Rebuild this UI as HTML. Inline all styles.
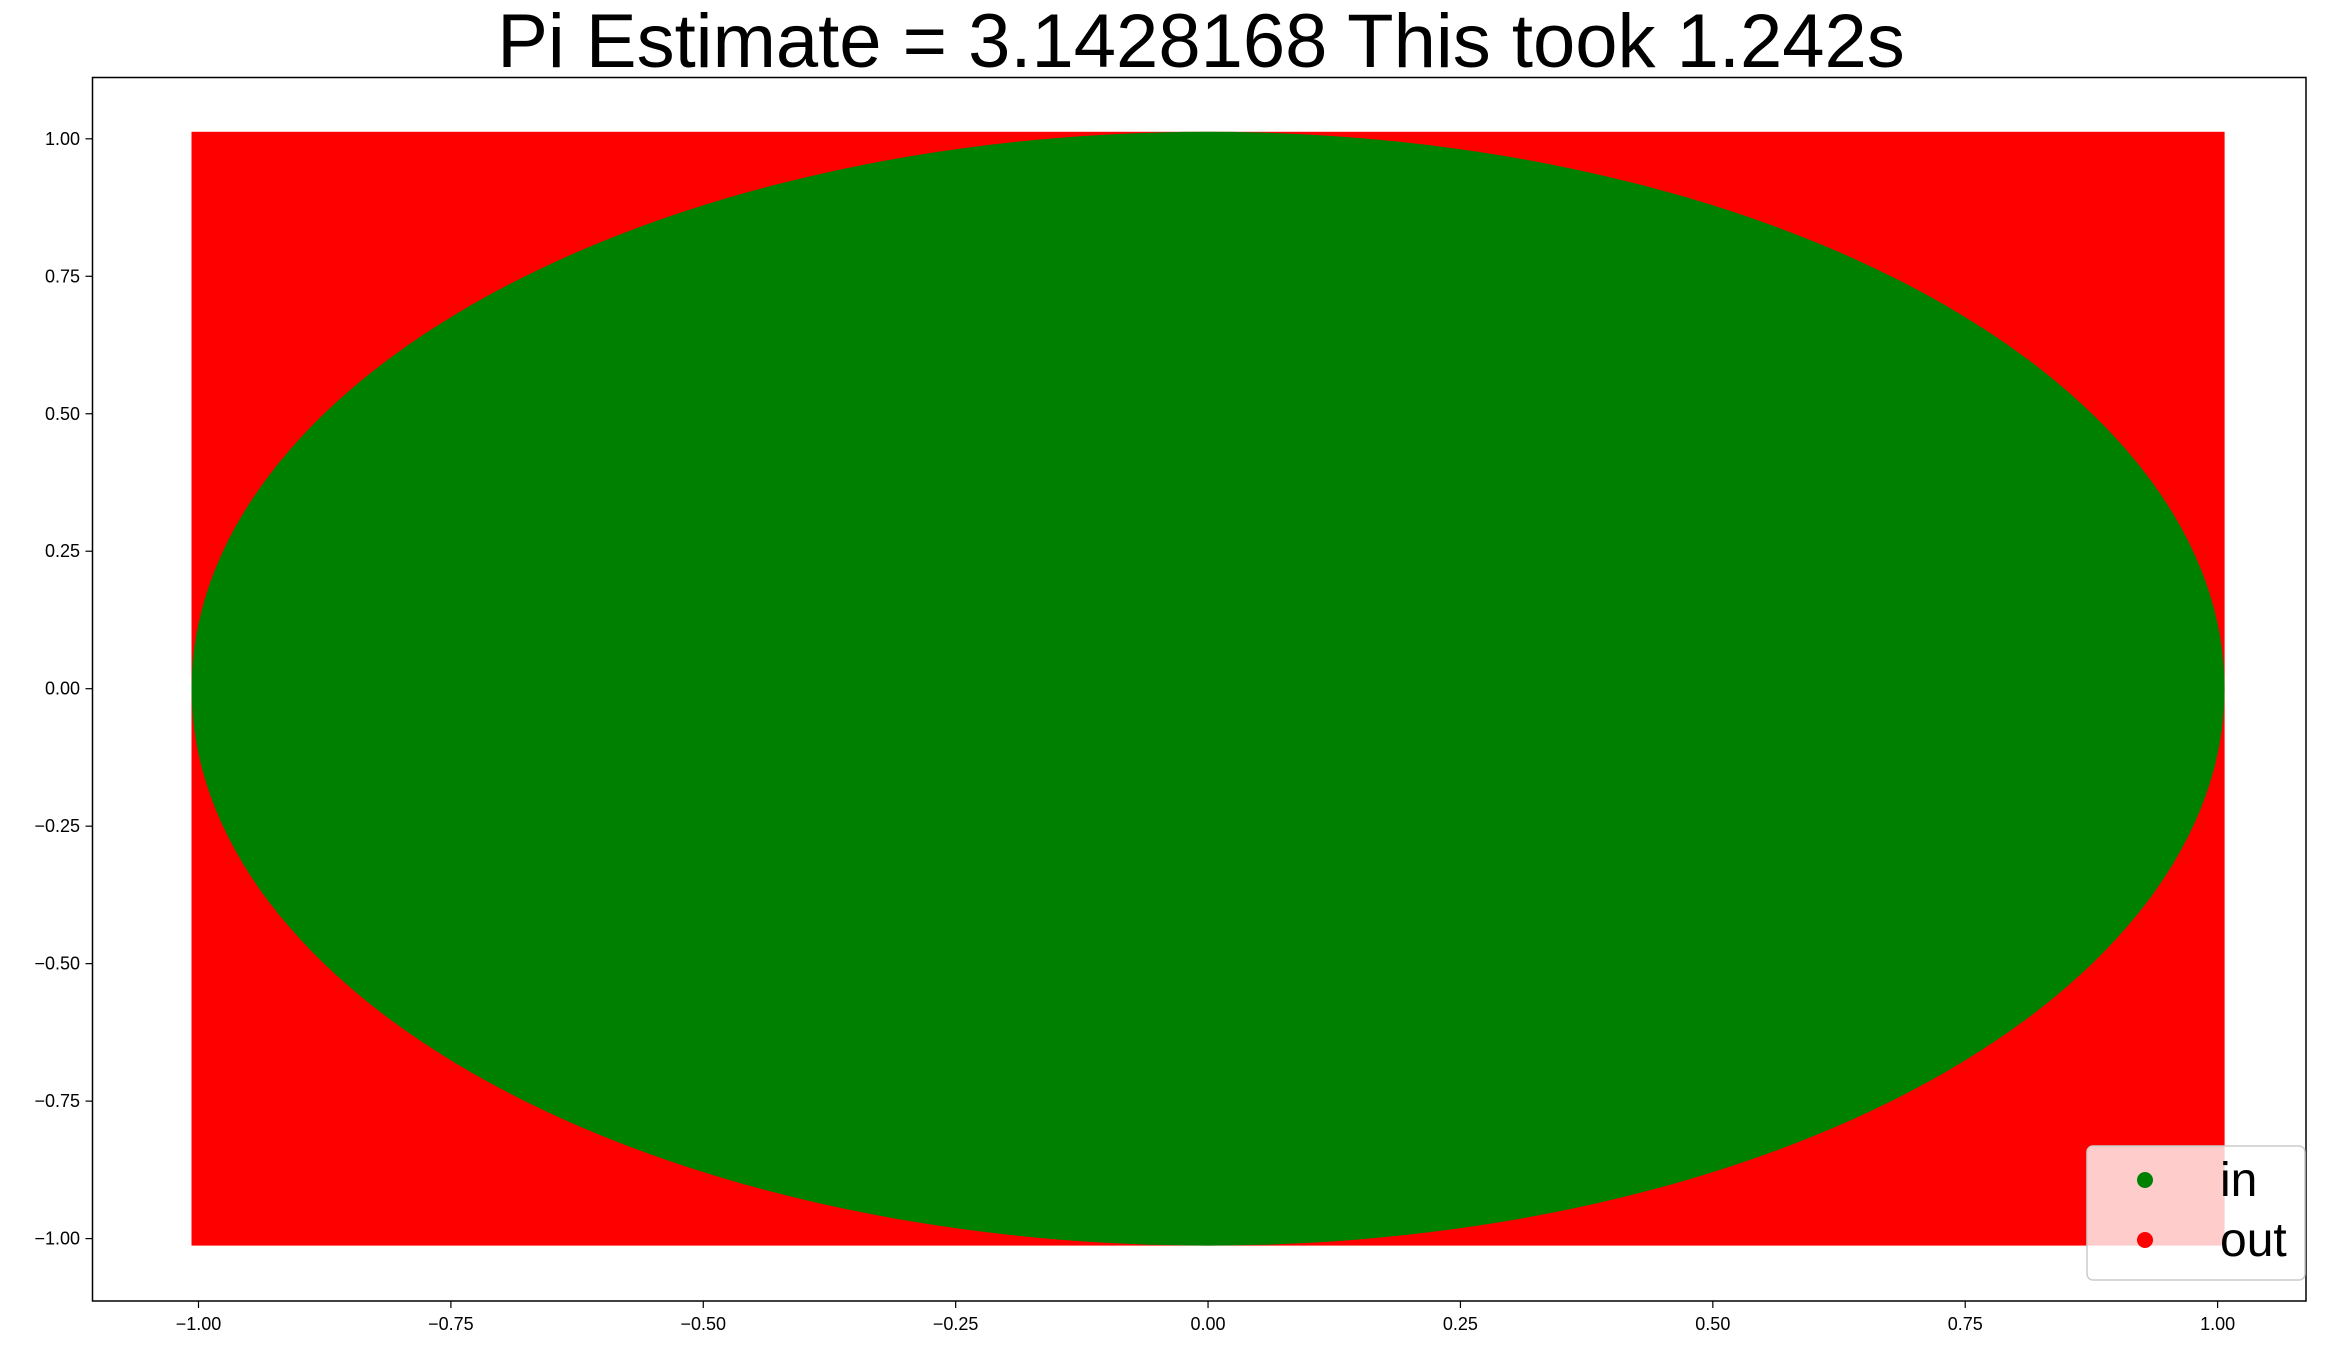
<!DOCTYPE html>
<html><head><meta charset="utf-8"><style>
html,body{margin:0;padding:0;background:#fff;}
svg{display:block;font-family:"Liberation Sans","DejaVu Sans",sans-serif;}
</style></head><body>
<svg id="chart" width="2340" height="1351" viewBox="0 0 2340 1351">
<text x="1201" y="67" font-size="76" text-anchor="middle">Pi Estimate = 3.1428168 This took 1.242s</text>
<g id="plot"></g>
<rect x="92.5" y="77.5" width="2213.5" height="1223.5" fill="none" stroke="#000" stroke-width="1.5"/>
<g id="axes"></g>
<g>
<rect x="2087" y="1146" width="218" height="134" rx="6" fill="#fff" fill-opacity="0.8" stroke="#ccc" stroke-width="1.5"/>
<circle cx="2145" cy="1180" r="8" fill="#008000"/>
<text x="2220" y="1196" font-size="48">in</text>
<circle cx="2145" cy="1240" r="8" fill="#ff0000"/>
<text x="2220" y="1256" font-size="48">out</text>
</g>
</svg>
<script>
const xTicks=[-1,-0.75,-0.5,-0.25,0,0.25,0.5,0.75,1];
const yTicks=[-1,-0.75,-0.5,-0.25,0,0.25,0.5,0.75,1];
const squareExtent=[-1,1];
const circleRadius=[1];
const NS="http://www.w3.org/2000/svg";
function sx(v){return 198.5+(v+1)/2*(2217.6-198.5);}
function sy(v){return 1238.6-(v+1)/2*(1238.6-138.8);}
function fmt(v){return (v<0?"\u2212":"")+Math.abs(v).toFixed(2);}
function mk(t,a,parent){const e=document.createElementNS(NS,t);for(const k in a)e.setAttribute(k,a[k]);parent.appendChild(e);return e;}
const plot=document.getElementById('plot'),axes=document.getElementById('axes');
const mr=7;
const sq=mk('rect',{x:sx(squareExtent[0])-mr,y:sy(squareExtent[1])-mr,width:sx(squareExtent[1])-sx(squareExtent[0])+2*mr,height:sy(squareExtent[0])-sy(squareExtent[1])+2*mr,fill:'#ff0000'},plot);


const el=mk('ellipse',{cx:sx(0),cy:sy(0),rx:sx(circleRadius[0])-sx(0)+mr,ry:sy(0)-sy(circleRadius[0])+mr,fill:'#008000'},plot);


xTicks.forEach(v=>{
 const l=mk('line',{x1:sx(v),x2:sx(v),y1:1301,y2:1308,stroke:'#000','stroke-width':1.2},axes);
 
 
 const t=mk('text',{x:sx(v),y:1330,'font-size':18,'text-anchor':'middle'},axes);t.textContent=fmt(v);
 
 
});
yTicks.forEach(v=>{
 const l=mk('line',{x1:85.5,x2:92.5,y1:sy(v),y2:sy(v),stroke:'#000','stroke-width':1.2},axes);
 
 
 const t=mk('text',{x:80,y:sy(v)+6,'font-size':18,'text-anchor':'end'},axes);t.textContent=fmt(v);
 
 
});
</script>
</body></html>
